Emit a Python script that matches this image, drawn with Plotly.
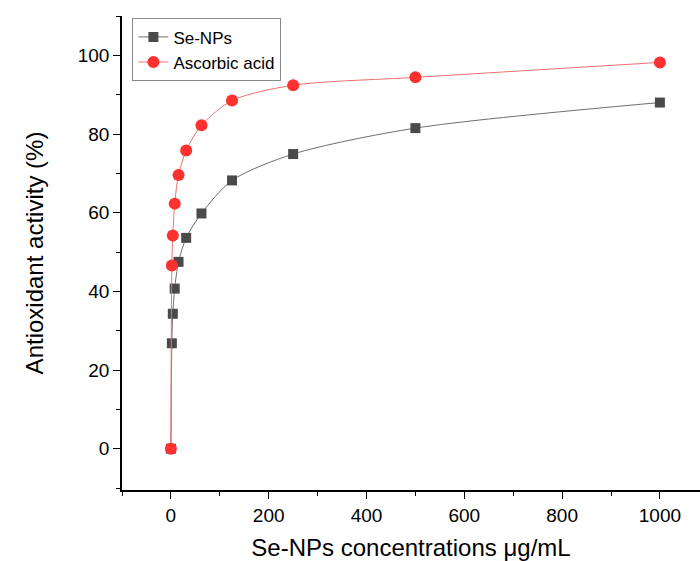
import plotly.graph_objects as go

conc = [0, 1.95, 3.9, 7.8, 15.6, 31.25, 62.5, 125, 250, 500, 1000]
se_nps = [0, 26.8, 34.3, 40.7, 47.5, 53.6, 59.8, 68.2, 74.9, 81.5, 88.0]
ascorbic = [0, 46.6, 54.2, 62.3, 69.6, 75.8, 82.2, 88.5, 92.4, 94.4, 98.2]

fig = go.Figure()
fig.add_trace(go.Scatter(
    x=conc, y=se_nps, name="Se-NPs", mode="lines+markers",
    line=dict(color="#6e6e6e", width=1, shape="spline", smoothing=0.8),
    marker=dict(symbol="square", size=10, color="#4a4a4a"),
))
fig.add_trace(go.Scatter(
    x=conc, y=ascorbic, name="Ascorbic acid", mode="lines+markers",
    line=dict(color="#f07070", width=1, shape="spline", smoothing=0.8),
    marker=dict(symbol="circle", size=12, color="#ff3030"),
))

axis_common = dict(
    showline=True, linecolor="black", linewidth=1.5, mirror=False,
    ticks="outside", ticklen=7, tickwidth=1.2, tickcolor="black",
    showgrid=False, zeroline=False,
    tickfont=dict(family="Liberation Sans, Arial", size=19, color="black"),
)

fig.update_layout(
    width=700, height=561,
    margin=dict(l=122, r=0, t=16, b=71),
    plot_bgcolor="white", paper_bgcolor="white",
    font=dict(family="Liberation Sans, Arial", color="black"),
    xaxis=dict(
        range=[-100, 1082], tickvals=[0, 200, 400, 600, 800, 1000],
        minor=dict(ticks="outside", ticklen=4, dtick=100, tick0=0, tickcolor="black"),
        title=dict(text="Se-NPs concentrations μg/mL", font=dict(size=24), standoff=20),
        **axis_common,
    ),
    yaxis=dict(
        range=[-10.5, 110], tickvals=[0, 20, 40, 60, 80, 100],
        minor=dict(ticks="outside", ticklen=4, dtick=10, tick0=0, tickcolor="black"),
        title=dict(text="Antioxidant activity (%)", font=dict(size=24), standoff=27),
        **axis_common,
    ),
    legend=dict(
        x=0.018, y=0.995, xanchor="left", yanchor="top",
        bgcolor="white", bordercolor="#888888", borderwidth=1,
        font=dict(size=17, color="black"), tracegroupgap=0,
        itemwidth=30,
    ),
)

fig.write_html("out.html")
